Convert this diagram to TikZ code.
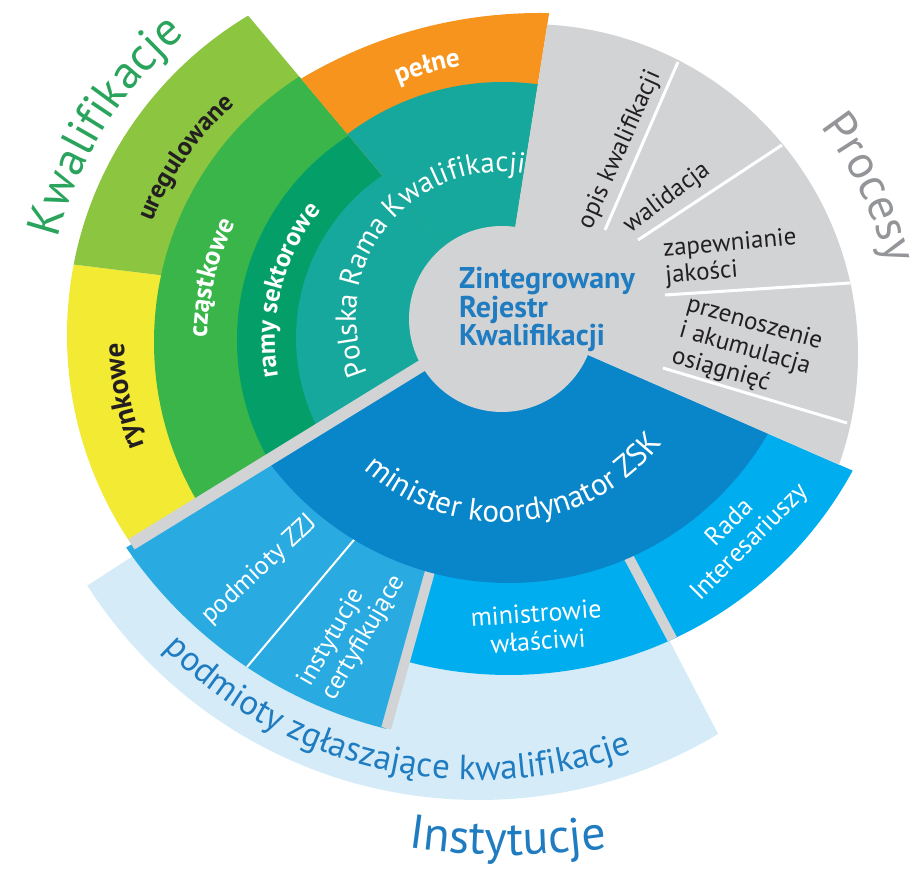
\documentclass[tikz,border=0pt]{standalone}
\usepackage{fontspec}
\setmainfont{PT Sans}
\usetikzlibrary{decorations.text}

\definecolor{cYellow}{HTML}{F3EA34}
\definecolor{cLime}{HTML}{8CC540}
\definecolor{cGreen}{HTML}{3AB54A}
\definecolor{cDarkGreen}{HTML}{049F68}
\definecolor{cTeal}{HTML}{16A89C}
\definecolor{cOrange}{HTML}{F7941E}
\definecolor{cGrey}{HTML}{D1D3D5}
\definecolor{cMinister}{HTML}{0986C9}
\definecolor{cZZJ}{HTML}{29ABE2}
\definecolor{cCyan}{HTML}{00AEEF}
\definecolor{cPale}{HTML}{D5ECF8}
\definecolor{tGreen}{HTML}{2AA45C}
\definecolor{tGrey}{HTML}{939598}
\definecolor{tBlue}{HTML}{1F7CC1}
\definecolor{tInk}{HTML}{231F20}

\newcommand{\tsize}[2]{\fontsize{#1}{#2}\selectfont}
% piece of a ring: colour, from angle, to angle (seen from C), arc centre, radius
\newcommand{\ringpart}[5]{%
  \begin{scope}
    \clip (C) -- ++(#2:700pt) arc[start angle=#2, end angle=#3, radius=700pt] -- cycle;
    \fill[#1] (#4) circle[radius=#5pt];
  \end{scope}}
% text on an arc: centre, radius, from, to, format, text
\newcommand{\arclabel}[6]{%
  \path[decorate, decoration={text along path, text align=center, text={|#5|#6}}]
    ([shift={(#1)}]#3:#2pt) arc[start angle=#3, end angle=#4, radius=#2pt];}

\tikzset{
  proclabel/.style={font=\tsize{25}{27}, text=tInk, inner sep=0},
  instlabel/.style={font=\tsize{26}{28}, text=white, inner sep=0},
  divider/.style={white, line width=3pt}
}

\begin{document}
\begin{tikzpicture}[x=1pt, y=1pt]
\useasboundingbox (0,0) rectangle (921,868);

% Centres
\coordinate (C) at (501,551);
\coordinate (cYG) at (439,533);
\coordinate (cB) at (469,526);
\coordinate (cDG) at (480,528);
\coordinate (cD) at (492,530);
\coordinate (cF) at (503,528);
\coordinate (cE) at (540,388);
\coordinate (cG) at (528,514);
\coordinate (cH) at (509,584);
\coordinate (cI) at (494,571);
\coordinate (cK) at (509,584);
\coordinate (cJ) at (479,533);
\coordinate (cIns) at (508,713);

% Instytucje
\ringpart{cPale}{213}{297.5}{cJ}{465}
\ringpart{cZZJ}{211.6}{254.4}{cI}{445}
\ringpart{cCyan}{254.4}{298}{cK}{391}
\ringpart{cCyan}{298}{336.4}{cK}{391}
\draw[cGrey, line width=10pt] (C) -- ++(254.4:427);
\draw[cGrey, line width=10pt] (C) -- ++(298:365);
\draw[white, line width=2pt] (364,340) -- (247,201);
\ringpart{cMinister}{211.6}{336.4}{cH}{299}

% Kwalifikacje
\ringpart{cYellow}{173}{211.6}{cYG}{372}
\ringpart{cLime}{130}{173}{cYG}{372}
\ringpart{cGreen}{130}{211.6}{cB}{315}
\ringpart{cDarkGreen}{130}{211.6}{cDG}{243}
\ringpart{cOrange}{81}{130}{cE}{467}
\ringpart{cTeal}{81}{130}{cF}{258}
\ringpart{cTeal}{130}{211.6}{cD}{196}

% Procesy
\ringpart{cGrey}{336.4}{441}{cG}{330}
\draw[divider] (605,638) -- (678,806);
\draw[divider] (638,628) -- (782,723);
\draw[divider] (665,573) -- (850,585);
\draw[divider] (663,500) -- (847,445);

% Band and centre
\draw[cGrey, line width=12pt] (C) -- ++(211.6:434);
\fill[cGrey] (502,549) circle[radius=93pt];

% Curved labels
\arclabel{cYG}{393}{178}{118}{\color{tGreen}\tsize{47}{47}}{Kwalifikacje}
\arclabel{cG}{370}{56}{-4}{\color{tGrey}\tsize{47}{47}}{Procesy}
\arclabel{cIns}{700}{250}{290}{\color{tBlue}\tsize{48}{48}}{Instytucje}
\arclabel{cJ}{445}{205}{310}{\color{tBlue}\tsize{35}{35}}{podmioty zgłaszające kwalifikacje}
\arclabel{C}{205}{205}{345}{\color{white}\tsize{31}{31}}{minister koordynator ZSK}
\arclabel{C}{145}{232}{52}{\color{white}\tsize{29}{29}}{Polska Rama Kwalifikacji}
\arclabel{cDG}{205}{205}{126}{\color{white}\tsize{26}{26}\bfseries}{ramy sektorowe}
\arclabel{cB}{262}{190}{142}{\color{white}\tsize{27}{27}\bfseries}{cząstkowe}
\arclabel{cYG}{308}{170}{120}{\color{tInk}\tsize{26}{26}\bfseries}{uregulowane}
\arclabel{cYG}{315}{208}{174}{\color{tInk}\tsize{29}{29}\bfseries}{rynkowe}
\arclabel{cF}{277}{125}{86}{\color{white}\tsize{27}{27}\bfseries}{pełne}

% Labels
\node (zrk) [anchor=north west, align=left, font=\tsize{30}{26}\bfseries, text=tBlue, inner sep=0] at (459,601) {Zintegrowany\\Rejestr\\Kwalifikacji};
\node (opis) [proclabel, rotate=66] at (620,718) {opis kwalifikacji};
\node (walid) [proclabel, rotate=37] at (667,670) {walidacja};
\node (zapew) [proclabel, align=left, rotate=5] at (731,610) {zapewnianie\\jakości};
\node (przen) [proclabel, align=left, rotate=-16] at (747,518) {przenoszenie\\i akumulacja\\osiągnięć};
\node (zzj) [instlabel, rotate=43] at (260,298) {podmioty ZZJ};
\node (certy) [instlabel, align=left, rotate=60] at (352,237) {instytucje\\certyfikujące};
\node (minw) [instlabel, align=center, rotate=4] at (537,241) {ministrowie\\właściwi};
\node (rada) [instlabel, align=center, rotate=45] at (740,335) {Rada\\Interesariuszy};

\end{tikzpicture}
\end{document}
